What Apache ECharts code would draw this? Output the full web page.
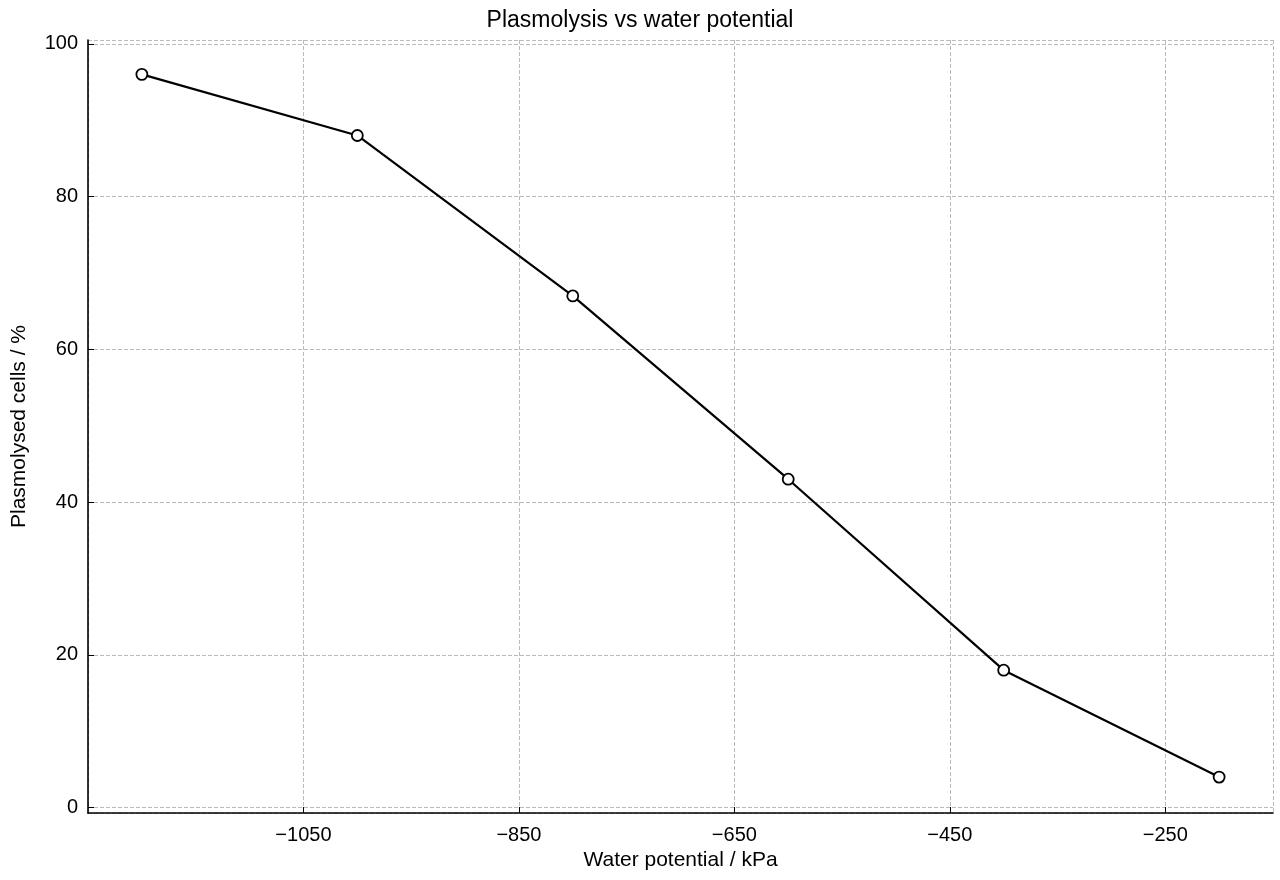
<!DOCTYPE html>
<html><head><meta charset="utf-8">
<script src="https://cdn.jsdelivr.net/npm/echarts@6/dist/echarts.min.js"></script>
<style>html,body{margin:0;padding:0;background:#fff}#c{width:1280px;height:880px}</style>
</head><body><div id="c"></div>
<script>
const waterPotential = [-1200, -1000, -800, -600, -400, -200];
const plasmolysed = [96, 88, 67, 43, 18, 4];
const fmt = v => (v < 0 ? '\u2212' + Math.abs(v) : String(v));
const chart = echarts.init(document.getElementById('c'));
const font = 'Liberation Sans, Arial, sans-serif';
chart.setOption({
  animation: false,
  textStyle: { fontFamily: font },
  title: { text: 'Plasmolysis vs water potential', left: 'center', top: 4,
    textStyle: { fontSize: 23, fontWeight: 'normal', color: '#000', fontFamily: font } },
  grid: { left: 88, right: 7, top: 40, bottom: 67 },
  xAxis: {
    type: 'value', min: -1250, max: -150, interval: 200,
    name: 'Water potential / kPa', nameLocation: 'middle', nameGap: 36,
    nameTextStyle: { fontSize: 21, color: '#000' },
    axisLine: { onZero: false, lineStyle: { color: '#000', width: 1.6 } },
    axisTick: { inside: true, length: 6, lineStyle: { color: '#000' } },
    axisLabel: { fontSize: 20, color: '#000', margin: 12, formatter: fmt,
      showMinLabel: false, showMaxLabel: false },
    splitLine: { show: true, lineStyle: { color: '#bbb', type: 'dashed' } }
  },
  yAxis: {
    type: 'value', min: -0.7, max: 100.5,
    name: 'Plasmolysed cells / %', nameLocation: 'middle', nameGap: 58,
    nameTextStyle: { fontSize: 21, color: '#000' },
    axisLine: { show: true, onZero: false, lineStyle: { color: '#000', width: 1.6 } },
    axisTick: { show: true, inside: true, length: 6, lineStyle: { color: '#000' } },
    axisLabel: { fontSize: 20, color: '#000', margin: 10, formatter: fmt,
      showMinLabel: false, showMaxLabel: false },
    splitLine: { show: true, lineStyle: { color: '#bbb', type: 'dashed' } }
  },
  series: [{
    type: 'line',
    data: waterPotential.map((x, i) => [x, plasmolysed[i]]),
    symbol: 'circle', symbolSize: 11,
    lineStyle: { color: '#000', width: 2.2 },
    itemStyle: { color: '#fff', borderColor: '#000', borderWidth: 1.8 }
  }]
});
</script></body></html>
